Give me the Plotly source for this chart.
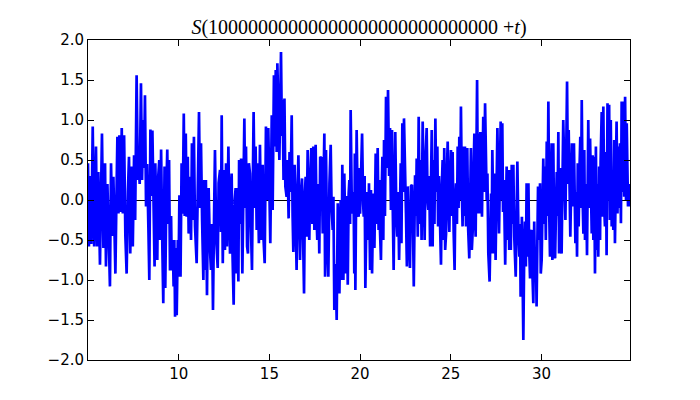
import plotly.graph_objects as go

title_text = "<i>S</i>(10000000000000000000000000000 +<i>t</i>)"

# (t, S) vertices, in order of t
t_vals = [
    5.00, 5.05, 5.12, 5.18, 5.26, 5.34, 5.44, 5.50, 5.57, 5.66, 5.77, 5.85, 5.94, 5.99, 6.07, 6.14,
    6.21, 6.27, 6.34, 6.40, 6.46, 6.51, 6.57, 6.62, 6.68, 6.73, 6.80, 6.86, 6.92, 6.99, 7.06, 7.13,
    7.20, 7.26, 7.33, 7.41, 7.47, 7.54, 7.60, 7.68, 7.75, 7.79, 7.85, 7.92, 7.98, 8.04, 8.09, 8.14,
    8.20, 8.26, 8.33, 8.38, 8.44, 8.50, 8.55, 8.60, 8.67, 8.71,
    8.77, 8.82, 8.86, 8.93, 8.98, 9.03, 9.10, 9.15, 9.22, 9.26, 9.32, 9.37, 9.42, 9.47, 9.52, 9.58,
    9.62, 9.67, 9.72, 9.76, 9.80, 9.85, 9.89, 9.95, 9.99, 10.04, 10.10, 10.16, 10.22, 10.28, 10.33,
    10.39, 10.44, 10.50, 10.55, 10.62, 10.68, 10.73, 10.79, 10.84, 10.90, 10.99, 11.05, 11.12, 11.18,
    11.23, 11.29, 11.36, 11.41, 11.45, 11.50, 11.56, 11.61, 11.65, 11.72, 11.78, 11.84, 11.89, 11.95,
    12.00, 12.07, 12.15, 12.20, 12.28, 12.33, 12.37,
    12.43, 12.50, 12.55, 12.61, 12.66, 12.74, 12.79, 12.83, 12.88, 12.92, 12.97, 13.03, 13.09, 13.14,
    13.19, 13.23, 13.29, 13.33, 13.38, 13.44, 13.51, 13.57, 13.62, 13.67, 13.71, 13.77, 13.82, 13.87,
    13.93, 13.99, 14.04, 14.09, 14.13, 14.19, 14.24, 14.30, 14.35, 14.42, 14.48, 14.55, 14.63, 14.68,
    14.74, 14.81, 14.87, 14.94, 15.00, 15.05, 15.13, 15.18, 15.25, 15.30, 15.35, 15.40, 15.44, 15.50,
    15.55, 15.64, 15.69, 15.73, 15.78, 15.83, 15.88, 15.95, 16.00, 16.06, 16.11, 16.17, 16.23, 16.28,
    16.32,
    16.39, 16.45, 16.50, 16.56, 16.60, 16.65, 16.69, 16.75, 16.80, 16.86, 16.91, 16.96, 17.00, 17.05,
    17.11, 17.16, 17.20, 17.26, 17.31, 17.37, 17.42, 17.48, 17.55, 17.60, 17.64, 17.70, 17.75, 17.80,
    17.88, 17.94, 18.03, 18.07, 18.12, 18.18, 18.25, 18.31, 18.38, 18.43, 18.49, 18.53, 18.58, 18.65,
    18.71, 18.77, 18.82, 18.86, 18.93, 18.98, 19.02, 19.08, 19.13, 19.18, 19.22, 19.27, 19.32, 19.37,
    19.41, 19.45, 19.48, 19.54, 19.59, 19.64, 19.68, 19.71, 19.74, 19.81, 19.87, 19.92, 19.97, 20.00,
    20.05, 20.11, 20.17, 20.20, 20.25, 20.29,
    20.35, 20.40, 20.45, 20.49, 20.55, 20.60, 20.66, 20.73, 20.79, 20.86, 20.92, 20.97, 21.02, 21.06,
    21.10, 21.15, 21.20, 21.23, 21.28, 21.32, 21.37, 21.43, 21.49, 21.54, 21.60, 21.65, 21.70, 21.76,
    21.80, 21.85, 21.90, 21.94, 22.00, 22.05, 22.10, 22.15, 22.24, 22.28, 22.33, 22.38, 22.42, 22.48,
    22.53, 22.58, 22.62, 22.68, 22.75, 22.80, 22.86, 22.91, 22.96, 23.03, 23.08, 23.12, 23.18, 23.23,
    23.29, 23.34, 23.39, 23.45, 23.51, 23.56, 23.61, 23.67, 23.72, 23.76, 23.81, 23.86, 23.95, 24.00,
    24.04, 24.10, 24.15,
    24.20, 24.26, 24.30, 24.35, 24.40, 24.46, 24.51, 24.55, 24.60, 24.64, 24.69, 24.74, 24.78, 24.83,
    24.88, 24.92, 24.96, 25.01, 25.06, 25.10, 25.16, 25.21, 25.25, 25.29, 25.34, 25.38, 25.43, 25.47,
    25.52, 25.56, 25.61, 25.65, 25.70, 25.75, 25.78, 25.84, 25.91, 25.96, 26.02, 26.07, 26.11, 26.16,
    26.21, 26.25, 26.30, 26.34, 26.37, 26.45, 26.50, 26.54, 26.58, 26.63, 26.68, 26.72, 26.79, 26.84,
    26.89, 26.94, 26.98, 27.02, 27.07, 27.14, 27.18, 27.22, 27.25, 27.29, 27.34, 27.38, 27.42, 27.47,
    27.57, 27.61, 27.66, 27.75, 27.80, 27.84, 27.88, 27.93, 28.00,
    28.08, 28.13, 28.17, 28.22, 28.26, 28.31, 28.36, 28.40, 28.45, 28.50, 28.58, 28.62, 28.67, 28.73,
    28.78, 28.82, 28.85, 28.92, 28.95, 29.00, 29.05, 29.09, 29.14, 29.18, 29.23, 29.28, 29.32, 29.37,
    29.41, 29.46, 29.50, 29.55, 29.60, 29.64, 29.69, 29.73, 29.81, 29.86, 29.92, 29.96, 30.01, 30.06,
    30.10, 30.15, 30.19, 30.24, 30.29, 30.33, 30.38, 30.43, 30.47, 30.52, 30.56, 30.60, 30.65, 30.70,
    30.75, 30.84, 30.88, 30.93, 30.97, 31.02, 31.07, 31.11, 31.20, 31.26, 31.32, 31.41, 31.46, 31.50,
    31.55, 31.59, 31.68, 31.74, 31.79,
    31.84, 31.87, 31.92, 31.96, 32.00, 32.05, 32.10, 32.14, 32.18, 32.22, 32.27, 32.31, 32.36, 32.40,
    32.46, 32.51, 32.58, 32.63, 32.68, 32.72, 32.77, 32.82, 32.86, 32.90, 32.95, 33.00, 33.04, 33.09,
    33.13, 33.18, 33.23, 33.26, 33.32, 33.36, 33.41, 33.46, 33.50, 33.55, 33.59, 33.64, 33.69, 33.73,
    33.77, 33.82, 33.87, 33.92, 33.96, 34.01, 34.05, 34.14, 34.19, 34.24, 34.28, 34.33, 34.38, 34.42,
    34.47, 34.51, 34.56, 34.61, 34.66, 34.70, 34.77, 34.82, 34.87,
]

s_vals = [
    0.46, -0.58, 0.30, -0.55, 0.92, -0.58, 0.67, -0.58, 0.35, -0.81, 0.83, -0.60, 0.46, -0.83, 0.20, -0.63,
    -1.08, 0.46, -0.45, 0.29, -0.71, -0.92, 0.05, 0.79, -0.17, 0.81, -0.15, 0.90, -0.17, 0.81, -0.45, -0.92,
    0.10, 0.54, -0.67, 0.42, -0.58, 0.56, -0.25, 1.56, 0.25, 0.45, 0.20, 1.46, 0.25, 1.00, 0.40, 1.31,
    -0.08, 0.45, -0.35, -1.00, 0.88, 0.05, 0.87, -0.17, -0.83, 0.46,
    -0.54, -0.75, 0.25, 0.50, -0.50, 0.63, -0.60, -1.29, 0.42, -1.10, 0.10, 0.63, -0.30, 0.50, -0.88, -0.20,
    -0.88, -0.50, -1.08, -0.50, -1.46, -0.60, -1.44, -0.50, -0.96, 0.06, -0.96, 0.46, -0.17, 1.08, -0.20,
    0.83, -0.21, 0.54, -0.42, 0.29, -0.50, 0.71, -0.25, 0.79, -0.33, -0.79, 0.10, 1.10, -0.10,
    0.71, -0.25, -1.00, 0.25, -0.875, 0.25, -1.19, 0.00, 0.15, -0.60, -0.875, -0.30, -1.375, -0.20,
    0.625, -0.50, -0.85, 0.21, 0.375, -0.40, 1.06,
    -0.79, 0.375, -0.625, 0.46, -0.58, 0.67, -0.20, -0.67, 0.10, 0.33, -0.71, -1.31, 0.00, 0.15,
    -0.92, 0.15, -1.02, 0.50, -0.30, 0.52, -0.92, 0.20, 1.02, -0.10, 0.67, -0.58, -0.67, 0.46,
    0.33, -0.40, -0.875, 0.30, 1.10, -0.10, 0.67, -0.375, 0.46, -0.54, 0.69, -0.50, 0.44, -0.50,
    -0.79, 0.92, 0.00, 0.90, 0.10, -0.54, 1.06, -0.125, 1.56, 0.67, 1.625, 0.60, 1.71, 0.80,
    0.50, 1.85, 0.80, 1.25, 0.25, 1.27, 0.17, 0.04, 0.50, -0.23, 0.60, 0.10, 1.06, -0.20,
    -0.65,
    0.44, -0.50, -0.875, 0.20, 0.56, -0.20, -0.75, 0.10, 0.27, -0.50, -1.17, 0.10, 0.29, -0.46,
    0.625, -0.20, -0.50, 0.30, 0.65, -0.30, 0.67, -0.375, 0.69, -0.20, -0.50, 0.20, -0.67, 0.54,
    0.52, -0.42, 0.83, -0.96, 0.625, -0.50, -0.96, 0.20, 0.69, -0.10, -0.375, 0.04, -1.375, -0.80,
    -1.50, -0.04, -0.70, -1.17, 0.00, -1.00, 0.44, -1.00, 0.33, -0.50, -0.92, 0.05, -1.06, 0.08,
    0.25, -0.30, 1.125, 0.00, -0.17, 0.10, -0.92, 0.58, -1.125, 0.875, -0.10, -0.21, 0.40, -0.17,
    0.50, 0.83, -0.05, -0.21, 0.30, -1.10,
    -0.20, 0.10, -0.50, 0.21, -0.875, 0.125, -0.92, 0.08, -0.60, 0.58, -0.30, 0.65, -0.375, 0.25,
    -0.40, -0.75, 0.20, 0.54, -0.50, 0.75, -0.20, 1.29, 0.40, 1.375, 0.30, 0.90, -0.125, 0.875,
    -0.08, -0.875, 0.20, 0.85, -0.20, -0.46, 0.10, -0.75, 0.46, -0.54, 0.96, 0.10, 1.02, 0.00,
    -0.17, -0.83, 0.17, -0.40, -0.85, 0.17, 0.19, -0.21, -1.08, 0.31, -0.20, 0.52, -0.46, 1.04,
    -0.30, 0.50, -0.50, 0.98, 0.00, -0.50, 0.50, 0.90, 0.00, -0.125, 0.30, -0.58, 0.875, -0.58,
    0.50, -0.30, 1.02,
    0.10, 0.67, -0.33, 0.30, -0.40, -0.81, 0.20, 0.50, -0.50, 0.65, -0.625, -0.42, 0.30, 0.73,
    -0.10, -0.40, 0.20, 0.625, -0.20, 0.60, -0.42, -0.875, 0.00, 0.21, -0.30, 0.67, -0.10, 0.79,
    0.00, 1.17, 0.10, -0.33, 0.67, -0.20, 0.67, -0.33, 0.65, -0.375, -0.73, 0.20, 0.65, -0.625,
    -0.375, 0.30, 0.83, -0.20, -0.46, 1.50, -0.17, 0.83, -0.17, 0.85, -0.10, -0.21, 1.04, 0.10,
    1.21, 0.20, 0.00, 0.33, -0.67, -1.02, -0.20, 0.08, -0.67, 0.625, -0.10, -0.67, 0.33, -0.75,
    0.90, -0.10, -0.42, 0.98, 0.00, 0.96, -0.15, 0.25, -0.81,
    0.42, -0.50, 0.375, -0.625, 0.375, -0.625, 0.44, -0.30, 0.44, -0.46, -0.96, 0.10, 0.48, -0.40,
    -0.71, -0.30, -1.21, -0.21, -1.21, -1.75, -0.60, -0.27, -0.83, 0.21, -0.71, 0.21, -0.60, -0.98,
    -0.40, -0.375, -0.92, -1.29, -0.27, -0.92, -0.60, -1.33, 0.17, -0.50, 0.21, -0.92, -0.75, 0.10,
    0.52, -0.30, 0.42, -0.50, 0.73, -0.20, 1.23, -0.20, -0.71, 0.20, 0.71, -0.75, 0.71, -0.40,
    -0.73, 0.35, -0.20, 0.85, -0.67, 0.40, -0.20, -0.67, 1.00, 0.10, -0.25, 1.48, 0.20, 0.875,
    -0.125, -0.46, 0.71, -0.08, 0.71,
    -0.20, -0.54, 0.10, -0.71, 0.46, -0.33, 0.42, 0.79, -0.10, 1.25, 0.00, -0.42, 0.625, -0.50,
    0.20, -0.69, 1.00, -0.10, 0.77, -0.20, -0.42, 0.56, -0.50, 0.54, -0.92, 0.67, -0.625, 0.20,
    -0.71, 0.42, -0.50, 0.48, 1.10, -0.21, 1.17, -0.10, -0.33, 0.60, -0.69, 1.21, 0.00, 1.19,
    -0.25, 1.00, -0.33, 0.30, -0.375, 0.75, -0.54, 0.98, -0.17, 0.67, -0.10, 0.71, -0.29, 1.23,
    0.10, 1.23, 0.04, 1.29, 0.00, 0.96, -0.08, 0.20, -0.08,
]

x_ticks = [10, 15, 20, 25, 30]
y_ticks = [-2.0, -1.5, -1.0, -0.5, 0.0, 0.5, 1.0, 1.5, 2.0]
x_range = [5.0, 34.88]
y_range = [-2.0, 2.0]

fig = go.Figure()
fig.add_trace(go.Scatter(
    x=t_vals, y=s_vals, mode="lines",
    line=dict(color="#0000FF", width=2.7),
    hoverinfo="skip", showlegend=False,
))

axis_common = dict(
    showgrid=False,
    showline=True, linecolor="black", linewidth=1, mirror="allticks",
    ticks="inside", ticklen=6, tickwidth=1, tickcolor="black",
    tickfont=dict(family="DejaVu Sans", size=15, color="black"),
)
fig.update_xaxes(range=x_range, tickvals=x_ticks, zeroline=False, **axis_common)
fig.update_yaxes(range=y_range, tickvals=y_ticks, tickformat=".1f",
                 zeroline=True, zerolinecolor="black", zerolinewidth=1, **axis_common)

# the page adds an 8px body margin, so the margins compensate for it
fig.update_layout(
    width=700, height=400,
    margin=dict(l=80, r=78, t=32, b=48),
    paper_bgcolor="white", plot_bgcolor="white",
    title=dict(text=title_text, x=0.5, xref="paper", xanchor="center",
               y=1, yref="paper", yanchor="bottom", pad=dict(b=6),
               font=dict(family="Liberation Serif", size=20, color="black")),
)

fig.write_html("out.html")
